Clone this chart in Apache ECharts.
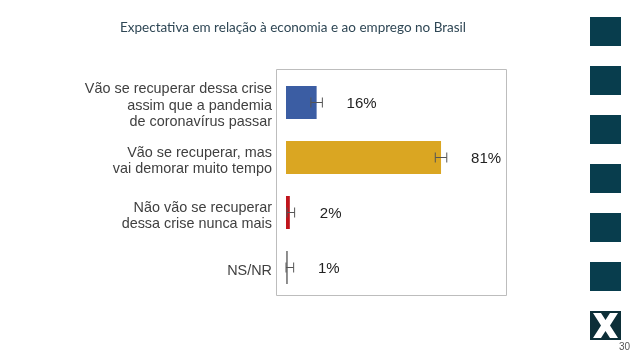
<!DOCTYPE html>
<html><head><meta charset="utf-8">
<script src="https://cdn.jsdelivr.net/npm/echarts@6/dist/echarts.min.js"></script>
<style>html,body{margin:0;padding:0;background:#fff}#c{width:638px;height:359px}</style>
</head><body><div id="c"></div>
<script>
const title = 'Expectativa em relação à economia e ao emprego no Brasil';
const categories = [
  'Vão se recuperar dessa crise\nassim que a pandemia\nde coronavírus passar',
  'Vão se recuperar, mas\nvai demorar muito tempo',
  'Não vão se recuperar\ndessa crise nunca mais',
  'NS/NR'
];
const values = [16, 81, 2, 1];
const errLow = [13, 78, 0.5, 0];
const errHigh = [19, 84, 4.5, 4];
const barColors = ['#3B5DA3', '#DAA622', '#C0141C', '#8A8A8A'];
const pageNumber = '30';

const chart = echarts.init(document.getElementById('c'));
const squares = [];
[17, 66, 115, 164, 213, 262].forEach(y => {
  squares.push({type:'rect', shape:{x:590, y:y, width:31, height:29}, style:{fill:'#083D4D'}});
});
squares.push({type:'rect', shape:{x:590, y:311, width:31, height:29}, style:{fill:'#0D2F38'}});
squares.push({type:'polygon', shape:{points:[[593,313],[601,313],[605.5,320],[610,313],[618,313],[610,325.5],[618,338],[610,338],[605.5,331],[601,338],[593,338],[601,325.5]]}, style:{fill:'#ffffff'}});
squares.push({type:'text', left:619, top:342, style:{text:pageNumber, fill:'#555', font:'10px "Liberation Sans", Arial, sans-serif'}});
squares.push({type:'rect', shape:{x:276.5, y:69.5, width:230, height:226}, style:{fill:'none', stroke:'#bdbdbd', lineWidth:1}});

chart.setOption({
  animation:false,
  backgroundColor:'#fff',
  title:{text:title, left:115, top:16, textStyle:{fontFamily:'Lato', fontWeight:'normal', fontSize:13.5, color:'#2F4755'}},
  grid:[
    {left:286, top:75, width:191.4, height:220},
    {left:286, top:78.5, width:191.4, height:220}
  ],
  xAxis:[
    {type:'value', min:0, max:100, show:false, gridIndex:0},
    {type:'value', min:0, max:100, show:false, gridIndex:1}
  ],
  yAxis:[
    {type:'category', data:categories, inverse:true, gridIndex:0,
      axisLine:{show:false}, axisTick:{show:false}, splitLine:{show:false}, axisLabel:{show:false}},
    {type:'category', data:categories, inverse:true, gridIndex:1,
      axisLine:{show:false}, axisTick:{show:false}, splitLine:{show:false},
      axisLabel:{margin:14, fontFamily:'Liberation Sans', fontSize:14.4, lineHeight:16.5, color:'#404040', align:'right'}}
  ],
  graphic:squares,
  series:[
    {type:'bar', barWidth:33, xAxisIndex:0, yAxisIndex:0,
      data: values.map((v,i)=>({value:v, itemStyle:{color:barColors[i]}})),
      label:{show:true, position:'right', distance:30, offset:[0,1.5], formatter:'{c}%', fontFamily:'Liberation Sans', fontSize:15, color:'#222'}},
    {type:'custom', xAxisIndex:0, yAxisIndex:0, data: errLow.map((l,i)=>[l, errHigh[i], i]),
      renderItem:function(params, api){
        const a = api.coord([api.value(0), api.value(2)]);
        const b = api.coord([api.value(1), api.value(2)]);
        const h = 5;
        const s = {stroke:'#555', lineWidth:1, fill:null};
        return {type:'group', children:[
          {type:'line', shape:{x1:a[0], y1:a[1], x2:b[0], y2:b[1]}, style:s},
          {type:'line', shape:{x1:a[0], y1:a[1]-h, x2:a[0], y2:a[1]+h}, style:s},
          {type:'line', shape:{x1:b[0], y1:b[1]-h, x2:b[0], y2:b[1]+h}, style:s}
        ]};
      }, z:5}
  ]
});
</script></body></html>
